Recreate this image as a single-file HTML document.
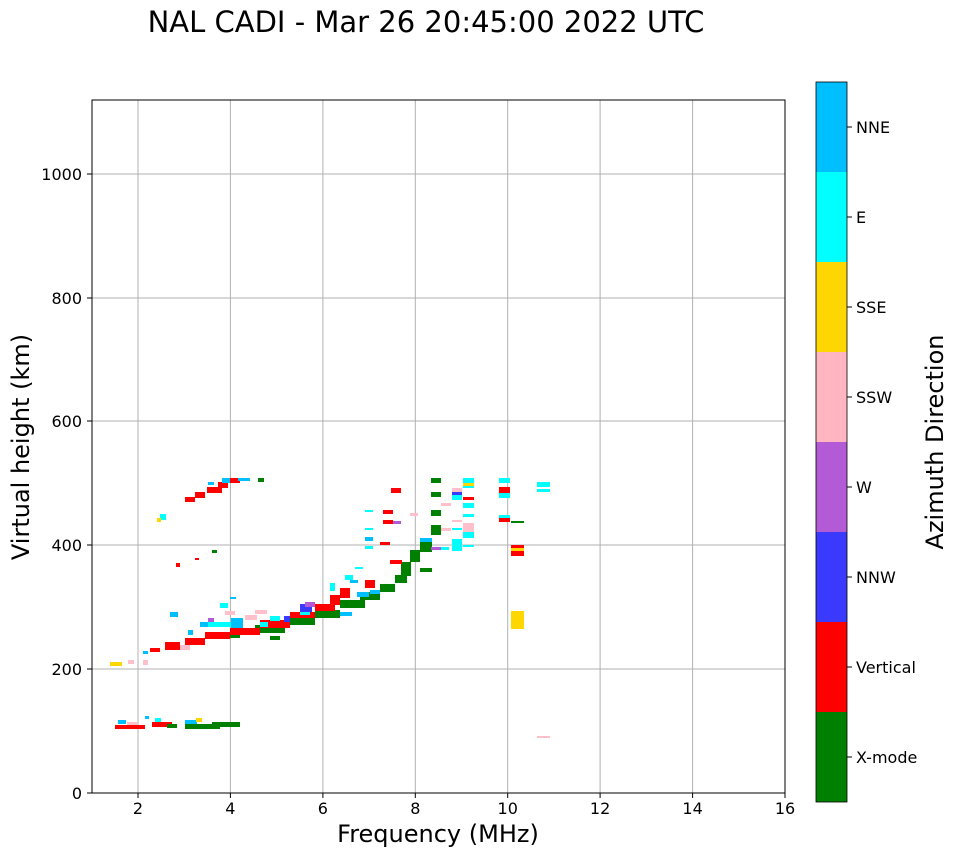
<!DOCTYPE html>
<html><head><meta charset="utf-8"><style>
body{margin:0;background:#fff;font-family:"DejaVu Sans",sans-serif;}
</style></head><body>
<svg width="958" height="857" xmlns="http://www.w3.org/2000/svg" font-family="DejaVu Sans, sans-serif">
<text x="426" y="32" font-size="29" text-anchor="middle">NAL CADI - Mar 26 20:45:00 2022 UTC</text>
<g stroke="#b0b0b0" stroke-width="1">
<line x1="138" y1="100" x2="138" y2="793"/><line x1="230.4" y1="100" x2="230.4" y2="793"/><line x1="322.9" y1="100" x2="322.9" y2="793"/><line x1="415.3" y1="100" x2="415.3" y2="793"/><line x1="507.7" y1="100" x2="507.7" y2="793"/><line x1="600.1" y1="100" x2="600.1" y2="793"/><line x1="692.6" y1="100" x2="692.6" y2="793"/>
<line x1="92" y1="669" x2="785" y2="669"/><line x1="92" y1="545" x2="785" y2="545"/><line x1="92" y1="421" x2="785" y2="421"/><line x1="92" y1="298" x2="785" y2="298"/><line x1="92" y1="174" x2="785" y2="174"/>
</g>
<g>
<rect x="115" y="725" width="30" height="4" fill="red"/><rect x="118" y="720" width="8" height="4" fill="#00bfff"/><rect x="127" y="722" width="10" height="3" fill="pink"/>
<rect x="152" y="722" width="20" height="5" fill="red"/><rect x="155" y="718" width="6" height="4" fill="cyan"/><rect x="167" y="724" width="10" height="4" fill="#008000"/>
<rect x="185" y="724" width="35" height="5" fill="#008000"/><rect x="185" y="720" width="12" height="4" fill="#00bfff"/><rect x="212" y="722" width="28" height="5" fill="#008000"/><rect x="196" y="718" width="6" height="4" fill="gold"/><rect x="145" y="716" width="4" height="3" fill="#00bfff"/>
<rect x="537" y="736" width="13" height="2" fill="pink"/>
<rect x="225" y="632" width="15" height="6" fill="#008000"/><rect x="255" y="625" width="30" height="8" fill="#008000"/><rect x="285" y="618" width="30" height="7" fill="#008000"/><rect x="315" y="610" width="25" height="8" fill="#008000"/><rect x="340" y="600" width="25" height="8" fill="#008000"/><rect x="360" y="592" width="20" height="8" fill="#008000"/><rect x="380" y="584" width="15" height="8" fill="#008000"/><rect x="395" y="575" width="12" height="8" fill="#008000"/><rect x="401" y="562" width="10" height="14" fill="#008000"/><rect x="410" y="550" width="10" height="12" fill="#008000"/><rect x="420" y="540" width="12" height="12" fill="#008000"/><rect x="431" y="525" width="10" height="10" fill="#008000"/><rect x="431" y="510" width="10" height="6" fill="#008000"/><rect x="431" y="492" width="10" height="5" fill="#008000"/><rect x="431" y="478" width="10" height="5" fill="#008000"/><rect x="420" y="568" width="12" height="4" fill="#008000"/><rect x="270" y="636" width="10" height="4" fill="#008000"/>
<rect x="150" y="648" width="10" height="4" fill="red"/><rect x="165" y="642" width="15" height="8" fill="red"/><rect x="185" y="638" width="20" height="7" fill="red"/><rect x="205" y="632" width="25" height="7" fill="red"/><rect x="230" y="628" width="30" height="7" fill="red"/><rect x="260" y="620" width="30" height="8" fill="red"/><rect x="290" y="612" width="25" height="6" fill="red"/><rect x="315" y="604" width="20" height="7" fill="red"/><rect x="330" y="595" width="10" height="10" fill="red"/><rect x="340" y="588" width="10" height="10" fill="red"/><rect x="365" y="580" width="10" height="8" fill="red"/><rect x="390" y="560" width="12" height="4" fill="red"/><rect x="383" y="510" width="10" height="4" fill="red"/><rect x="391" y="488" width="10" height="5" fill="red"/>
<rect x="200" y="622" width="10" height="5" fill="#00bfff"/><rect x="260" y="622" width="8" height="5" fill="cyan"/><rect x="270" y="616" width="10" height="5" fill="cyan"/><rect x="284" y="616" width="6" height="6" fill="#3a3aff"/><rect x="300" y="610" width="10" height="5" fill="cyan"/><rect x="300" y="604" width="12" height="8" fill="#3a3aff"/><rect x="305" y="602" width="10" height="5" fill="#b35ad6"/><rect x="340" y="612" width="12" height="4" fill="#00bfff"/><rect x="357" y="592" width="12" height="5" fill="#00bfff"/><rect x="330" y="583" width="5" height="8" fill="cyan"/><rect x="345" y="575" width="8" height="5" fill="cyan"/><rect x="370" y="590" width="10" height="4" fill="#00bfff"/><rect x="208" y="618" width="6" height="4" fill="#b35ad6"/><rect x="255" y="610" width="12" height="4" fill="pink"/><rect x="245" y="615" width="12" height="5" fill="pink"/><rect x="180" y="645" width="10" height="5" fill="pink"/><rect x="170" y="612" width="8" height="5" fill="#00bfff"/><rect x="188" y="630" width="5" height="5" fill="#00bfff"/><rect x="220" y="603" width="8" height="5" fill="cyan"/><rect x="225" y="611" width="10" height="4" fill="pink"/>
<rect x="208" y="622" width="30" height="5" fill="cyan"/><rect x="231" y="618" width="12" height="10" fill="#00bfff"/>
<rect x="110" y="662" width="12" height="4" fill="gold"/><rect x="128" y="660" width="6" height="4" fill="pink"/><rect x="143" y="660" width="5" height="5" fill="pink"/><rect x="143" y="651" width="5" height="3" fill="#00bfff"/>
<rect x="185" y="497" width="10" height="5" fill="red"/><rect x="195" y="492" width="10" height="6" fill="red"/><rect x="207" y="487" width="15" height="6" fill="red"/><rect x="218" y="482" width="10" height="6" fill="red"/><rect x="222" y="478" width="8" height="5" fill="#00bfff"/><rect x="230" y="478" width="10" height="5" fill="red"/><rect x="238" y="478" width="12" height="3" fill="#00bfff"/><rect x="258" y="478" width="6" height="4" fill="#008000"/><rect x="208" y="482" width="6" height="3" fill="#00bfff"/>
<rect x="160" y="514" width="6" height="6" fill="cyan"/><rect x="157" y="518" width="4" height="4" fill="gold"/><rect x="212" y="550" width="5" height="3" fill="#008000"/><rect x="176" y="563" width="4" height="4" fill="red"/><rect x="195" y="558" width="4" height="2" fill="red"/><rect x="230" y="597" width="6" height="2" fill="#00bfff"/>
<rect x="365" y="510" width="8" height="2" fill="cyan"/><rect x="365" y="528" width="8" height="2" fill="cyan"/><rect x="365" y="537" width="8" height="4" fill="#00bfff"/><rect x="365" y="546" width="8" height="3" fill="cyan"/><rect x="355" y="567" width="8" height="2" fill="cyan"/><rect x="350" y="580" width="8" height="3" fill="#00bfff"/><rect x="383" y="520" width="10" height="4" fill="red"/><rect x="380" y="542" width="10" height="3" fill="red"/><rect x="393" y="521" width="8" height="3" fill="#b35ad6"/><rect x="410" y="513" width="8" height="3" fill="pink"/>
<rect x="420" y="538" width="12" height="4" fill="#00bfff"/><rect x="431" y="547" width="10" height="3" fill="#b35ad6"/><rect x="441" y="547" width="8" height="3" fill="cyan"/><rect x="452" y="539" width="10" height="12" fill="cyan"/><rect x="441" y="528" width="10" height="3" fill="pink"/><rect x="452" y="495" width="10" height="5" fill="cyan"/><rect x="452" y="492" width="10" height="3" fill="#3a3aff"/><rect x="452" y="488" width="10" height="4" fill="pink"/><rect x="441" y="503" width="10" height="3" fill="pink"/><rect x="452" y="520" width="10" height="2" fill="pink"/><rect x="452" y="528" width="10" height="2" fill="cyan"/>
<rect x="463" y="478" width="11" height="5" fill="cyan"/><rect x="463" y="483" width="11" height="4" fill="gold"/><rect x="463" y="486" width="11" height="2" fill="cyan"/><rect x="463" y="497" width="11" height="3" fill="red"/><rect x="463" y="503" width="11" height="5" fill="cyan"/><rect x="463" y="514" width="11" height="3" fill="cyan"/><rect x="463" y="523" width="11" height="10" fill="pink"/><rect x="463" y="532" width="11" height="6" fill="cyan"/><rect x="463" y="545" width="11" height="2" fill="cyan"/>
<rect x="499" y="478" width="11" height="5" fill="cyan"/><rect x="499" y="487" width="11" height="6" fill="red"/><rect x="499" y="493" width="11" height="5" fill="cyan"/><rect x="499" y="515" width="11" height="3" fill="cyan"/><rect x="499" y="518" width="11" height="4" fill="red"/><rect x="511" y="521" width="13" height="2" fill="#008000"/><rect x="537" y="482" width="13" height="5" fill="cyan"/><rect x="537" y="489" width="13" height="3" fill="cyan"/>
<rect x="511" y="545" width="13" height="3" fill="red"/><rect x="511" y="548" width="13" height="3" fill="gold"/><rect x="511" y="551" width="13" height="5" fill="red"/><rect x="511" y="611" width="13" height="18" fill="gold"/>
</g>
<rect x="92" y="100" width="693" height="693" fill="none" stroke="#000" stroke-width="1"/>
<g font-size="16" text-anchor="middle">
<g stroke="#000"><line x1="138" y1="793" x2="138" y2="798"/><line x1="230.4" y1="793" x2="230.4" y2="798"/><line x1="322.9" y1="793" x2="322.9" y2="798"/><line x1="415.3" y1="793" x2="415.3" y2="798"/><line x1="507.7" y1="793" x2="507.7" y2="798"/><line x1="600.1" y1="793" x2="600.1" y2="798"/><line x1="692.6" y1="793" x2="692.6" y2="798"/><line x1="785" y1="793" x2="785" y2="798"/>
<line x1="87" y1="793" x2="92" y2="793"/><line x1="87" y1="669" x2="92" y2="669"/><line x1="87" y1="545" x2="92" y2="545"/><line x1="87" y1="421" x2="92" y2="421"/><line x1="87" y1="298" x2="92" y2="298"/><line x1="87" y1="174" x2="92" y2="174"/>
<line x1="847" y1="127" x2="852" y2="127"/><line x1="847" y1="217" x2="852" y2="217"/><line x1="847" y1="307" x2="852" y2="307"/><line x1="847" y1="397" x2="852" y2="397"/><line x1="847" y1="487" x2="852" y2="487"/><line x1="847" y1="577" x2="852" y2="577"/><line x1="847" y1="667" x2="852" y2="667"/><line x1="847" y1="757" x2="852" y2="757"/></g>
<text x="138" y="814">2</text><text x="230.4" y="814">4</text><text x="322.9" y="814">6</text><text x="415.3" y="814">8</text><text x="507.7" y="814">10</text><text x="600.1" y="814">12</text><text x="692.6" y="814">14</text><text x="785" y="814">16</text>
<g text-anchor="end"><text x="82" y="799">0</text><text x="82" y="675">200</text><text x="82" y="551">400</text><text x="82" y="427">600</text><text x="82" y="304">800</text><text x="82" y="180">1000</text></g>
</g>
<text x="438" y="842" font-size="24" text-anchor="middle">Frequency (MHz)</text>
<text transform="translate(29,447) rotate(-90)" font-size="24" text-anchor="middle">Virtual height (km)</text>
<g>
<rect x="816" y="82" width="31" height="90" fill="#00bfff"/><rect x="816" y="172" width="31" height="90" fill="cyan"/><rect x="816" y="262" width="31" height="90" fill="gold"/><rect x="816" y="352" width="31" height="90" fill="#ffb6c1"/><rect x="816" y="442" width="31" height="90" fill="#b35ad6"/><rect x="816" y="532" width="31" height="90" fill="#3a3aff"/><rect x="816" y="622" width="31" height="90" fill="red"/><rect x="816" y="712" width="31" height="90" fill="#008000"/>
<rect x="816" y="82" width="31" height="720" fill="none" stroke="#000" stroke-width="0.8"/>
</g>
<g font-size="16"><text x="856" y="133">NNE</text><text x="856" y="223">E</text><text x="856" y="313">SSE</text><text x="856" y="403">SSW</text><text x="856" y="493">W</text><text x="856" y="583">NNW</text><text x="856" y="673">Vertical</text><text x="856" y="763">X-mode</text></g>
<text transform="translate(943,442) rotate(-90)" font-size="24" text-anchor="middle">Azimuth Direction</text>
</svg>
</body></html>
